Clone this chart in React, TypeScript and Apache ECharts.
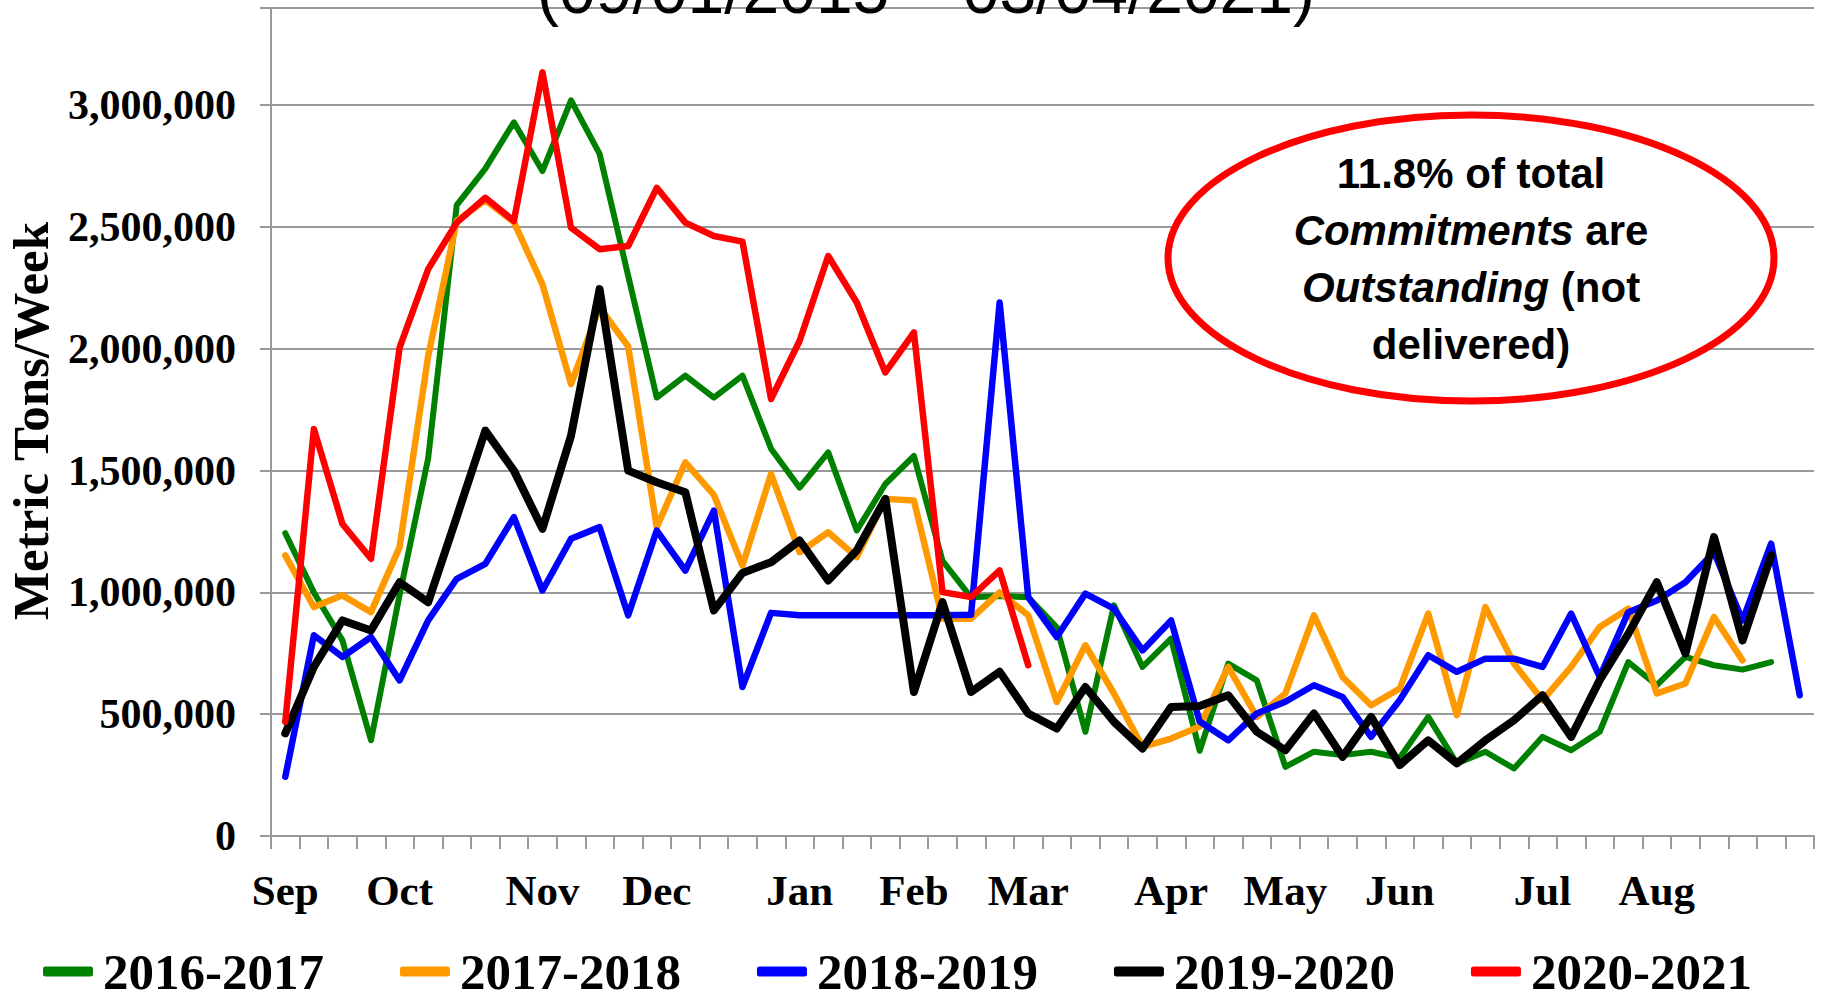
import React, { useEffect, useRef } from 'react';
import * as echarts from 'echarts';

const monthLabels = ['Sep', 'Oct', 'Nov', 'Dec', 'Jan', 'Feb', 'Mar', 'Apr', 'May', 'Jun', 'Jul', 'Aug'];
const monthWeekIndex = [0, 4, 9, 13, 18, 22, 26, 31, 35, 39, 44, 48];
const weekCount = 54;
const weeks = Array.from({ length: weekCount }, (_, i) => `W${i + 1}`);

const seriesNames = ['2016-2017', '2017-2018', '2018-2019', '2019-2020', '2020-2021'];
const seriesColors = ['#008000', '#FF9900', '#0000FF', '#000000', '#FF0000'];

const s2016_2017 = [
  1243000, 1000000, 803000, 393000, 990000, 1550000, 2590000, 2740000, 2930000, 2730000,
  3020000, 2800000, 2300000, 1800000, 1890000, 1800000, 1890000, 1590000, 1430000, 1575000,
  1254000, 1445000, 1560000, 1130000, 980000, 985000, 980000, 857000, 428000, 947000,
  694000, 810000, 350000, 708000, 639000, 284000, 346000, 332000, 346000, 320000,
  489000, 298000, 346000, 277000, 407000, 352000, 428000, 714000, 619000, 735000,
  701000, 683000, 714000,
];
const s2017_2018 = [
  1152000, 940000, 988000, 919000, 1186000, 1970000, 2525000, 2610000, 2520000, 2265000,
  1855000, 2170000, 2010000, 1268000, 1534000, 1400000, 1110000, 1486000, 1165000, 1247000,
  1145000, 1384000, 1377000, 892000, 892000, 1000000, 906000, 550000, 783000, 585000,
  366000, 400000, 450000, 694000, 489000, 585000, 906000, 653000, 537000, 605000,
  913000, 496000, 940000, 708000, 557000, 694000, 858000, 933000, 585000, 626000,
  899000, 721000,
];
const s2018_2019 = [
  243000, 824000, 735000, 817000, 639000, 885000, 1056000, 1117000, 1309000, 1008000,
  1220000, 1268000, 906000, 1254000, 1090000, 1336000, 612000, 916000, 906000, 906000,
  906000, 906000, 906000, 906000, 908000, 2190000, 981000, 817000, 995000, 933000,
  762000, 885000, 470000, 393000, 503000, 551000, 619000, 571000, 407000, 557000,
  742000, 674000, 728000, 728000, 694000, 913000, 653000, 919000, 967000, 1042000,
  1165000, 885000, 1200000, 578000,
];
const s2019_2020 = [
  421000, 694000, 885000, 844000, 1042000, 960000, 1310000, 1664000, 1500000, 1261000,
  1643000, 2245000, 1500000, 1452000, 1411000, 926000, 1080000, 1124000, 1213000, 1049000,
  1172000, 1384000, 591000, 960000, 591000, 674000, 503000, 441000, 612000, 469000,
  359000, 530000, 534000, 578000, 428000, 352000, 503000, 325000, 489000, 291000,
  393000, 298000, 393000, 475000, 578000, 407000, 640000, 830000, 1042000, 749000,
  1227000, 803000, 1152000,
];
const s2020_2021 = [
  469000, 1671000, 1281000, 1138000, 2005000, 2327000, 2518000, 2620000, 2525000, 3135000,
  2497000, 2409000, 2422000, 2661000, 2518000, 2463000, 2440000, 1794000, 2033000, 2381000,
  2190000, 1903000, 2067000, 1001000, 981000, 1090000, 701000,
];
const seriesValues = [s2016_2017, s2017_2018, s2018_2019, s2019_2020, s2020_2021];
const seriesWidths = [6, 6.5, 6.5, 8, 6.5];

const titleText = '(09/01/2015 \u2013 03/04/2021)';
const yAxisTitle = 'Metric Tons/Week';

export default function App() {
  const ref = useRef<HTMLDivElement>(null);
  useEffect(() => {
    if (!ref.current) return;
    const chart = echarts.init(ref.current, null, { renderer: 'svg' });
    const labelAt: Record<number, string> = {};
    monthWeekIndex.forEach((idx, k) => { labelAt[idx] = monthLabels[k]; });
    const gray = '#999999';
    const option: any = {
      animation: false,
      backgroundColor: '#ffffff',
      grid: { left: 271, right: 14, top: 7.8, bottom: 163, containLabel: false },
      xAxis: {
        type: 'category',
        data: weeks,
        boundaryGap: true,
        axisLine: { show: true, lineStyle: { color: gray, width: 2 } },
        axisTick: { show: true, length: 13, lineStyle: { color: gray, width: 2 } },
        axisLabel: {
          interval: 0,
          margin: 33,
          formatter: (_v: string, i: number) => labelAt[i] ?? '',
          fontFamily: 'Liberation Serif',
          fontWeight: 'bold',
          fontSize: 43,
          color: '#000',
        },
        splitLine: { show: false },
      },
      yAxis: {
        type: 'value',
        min: 0,
        max: 3400000,
        interval: 500000,
        axisLine: { show: true, lineStyle: { color: gray, width: 2 } },
        axisTick: { show: true, length: 11, lineStyle: { color: gray, width: 2 } },
        axisLabel: {
          margin: 35,
          formatter: (v: number) => (v > 3000000 ? '' : v.toLocaleString('en-US')),
          fontFamily: 'Liberation Serif',
          fontWeight: 'bold',
          fontSize: 42,
          color: '#000',
        },
        splitLine: { show: true, lineStyle: { color: gray, width: 2 } },
      },
      legend: {
        data: seriesNames,
        left: 43,
        top: 946,
        padding: 0,
        itemGap: 76,
        itemWidth: 50,
        itemHeight: 10,
        icon: 'roundRect',
        textStyle: {
          fontFamily: 'Liberation Serif',
          fontWeight: 'bold',
          fontSize: 51,
          lineHeight: 50,
          color: '#000',
          padding: [0, 0, 0, 5],
        },
      },
      series: seriesNames.map((name, k) => ({
        name,
        type: 'line',
        data: seriesValues[k],
        symbol: 'none',
        showSymbol: false,
        color: seriesColors[k],
        itemStyle: { color: seriesColors[k] },
        lineStyle: { color: seriesColors[k], width: seriesWidths[k], join: 'round', cap: 'round' },
        z: 2 + k,
      })),
      graphic: [
        {
          type: 'text',
          x: 926,
          y: -10,
          z: 100,
          style: {
            text: titleText,
            align: 'center',
            verticalAlign: 'middle',
            font: '66px "Liberation Sans"',
            fill: '#000',
          },
        },
        {
          type: 'text',
          x: 31,
          y: 421,
          rotation: Math.PI / 2,
          z: 100,
          style: {
            text: yAxisTitle,
            align: 'center',
            verticalAlign: 'middle',
            font: 'bold 51px "Liberation Serif"',
            fill: '#000',
          },
        },
        {
          type: 'ellipse',
          z: 100,
          shape: { cx: 1471, cy: 258, rx: 303, ry: 143 },
          style: { fill: '#ffffff', stroke: '#FF0000', lineWidth: 7 },
        },
        {
          type: 'text',
          x: 1471,
          y: 259,
          z: 101,
          style: {
            text: '{b|11.8% of total}\n{i|Commitments}{b| are}\n{i|Outstanding}{b| (not}\n{b|delivered)}',
            align: 'center',
            verticalAlign: 'middle',
            fill: '#000',
            rich: {
              b: { fontFamily: 'Liberation Sans', fontWeight: 'bold', fontSize: 42, lineHeight: 57, fill: '#000' },
              i: { fontFamily: 'Liberation Sans', fontWeight: 'bold', fontStyle: 'italic', fontSize: 42, lineHeight: 57, fill: '#000' },
            },
          },
        },
      ],
    };
    chart.setOption(option);
    return () => chart.dispose();
  }, []);
  return (
    <div
      ref={ref}
      style={{ position: 'fixed', left: 0, top: 0, width: 1828, height: 999, background: '#fff' }}
    />
  );
}
